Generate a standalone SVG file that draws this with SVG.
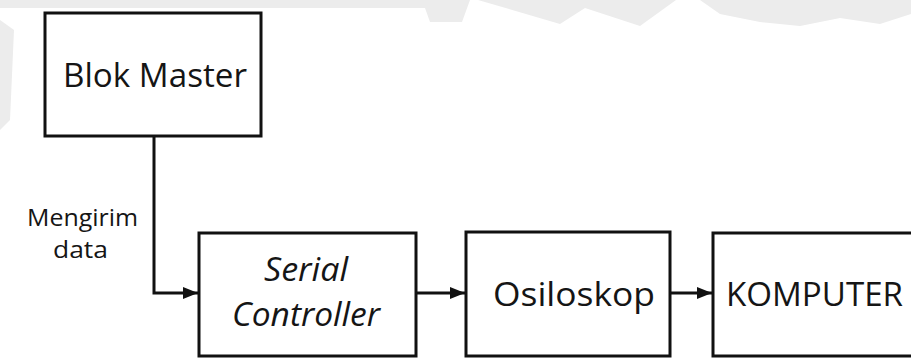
<svg xmlns="http://www.w3.org/2000/svg" width="911" height="363" viewBox="0 0 911 363">
  <defs>
    <style>
      .box { fill: #ffffff; stroke: #111111; stroke-width: 3; }
      .wire { fill: none; stroke: #111111; stroke-width: 3; }
      .lbl { font-family: "Open Sans", "Noto Sans", "Liberation Sans", sans-serif; fill: #151515; }
      .big { font-size: 33px; }
      .small { font-size: 23px; }
      .wm { fill: #ececec; }
    </style>
    <marker id="arrow" markerUnits="userSpaceOnUse" markerWidth="16" markerHeight="13" refX="15" refY="6" orient="auto">
      <path d="M0,0 L15,6 L0,12 Z" fill="#111111"/>
    </marker>
  </defs>

  <rect width="911" height="363" fill="#ffffff"/>

  <!-- faint background mark along the top edge -->
  <g id="backdrop">
    <path class="wm" d="M0,0 H470 L462,22 H430 L425,8 H0 Z"/>
    <path class="wm" d="M478,0 H676 L640,26 L585,8 L560,24 Z"/>
    <path class="wm" d="M700,0 H911 V14 L880,24 L840,18 L800,26 L760,22 L720,14 Z"/>
    <path class="wm" d="M0,20 L14,30 L10,120 L0,130 Z"/>
  </g>

  <!-- connectors -->
  <g id="connectors">
    <path class="wire" d="M154,136 V293 H198" marker-end="url(#arrow)"/>
    <path class="wire" d="M416,293 H465" marker-end="url(#arrow)"/>
    <path class="wire" d="M670,293 H712" marker-end="url(#arrow)"/>
  </g>

  <g id="blok-master">
    <rect class="box" x="45" y="13" width="216" height="123"/>
    <text class="lbl big" x="63" y="87" textLength="184" lengthAdjust="spacingAndGlyphs">Blok Master</text>
  </g>

  <g id="serial-controller">
    <rect class="box" x="199" y="233" width="217" height="123"/>
    <text class="lbl big" x="264" y="281" font-style="italic" textLength="84" lengthAdjust="spacingAndGlyphs">Serial</text>
    <text class="lbl big" x="232" y="326" font-style="italic" textLength="148" lengthAdjust="spacingAndGlyphs">Controller</text>
  </g>

  <g id="osiloskop">
    <rect class="box" x="466" y="232" width="204" height="124"/>
    <text class="lbl big" x="493" y="306" textLength="162" lengthAdjust="spacingAndGlyphs">Osiloskop</text>
  </g>

  <g id="komputer">
    <rect class="box" x="713" y="233" width="215" height="123"/>
    <text class="lbl big" x="726" y="306" textLength="177" lengthAdjust="spacingAndGlyphs">KOMPUTER</text>
  </g>

  <g id="label-mengirim">
    <text class="lbl small" x="27" y="226" textLength="111" lengthAdjust="spacingAndGlyphs">Mengirim</text>
    <text class="lbl small" x="53" y="258" textLength="55" lengthAdjust="spacingAndGlyphs">data</text>
  </g>
</svg>
